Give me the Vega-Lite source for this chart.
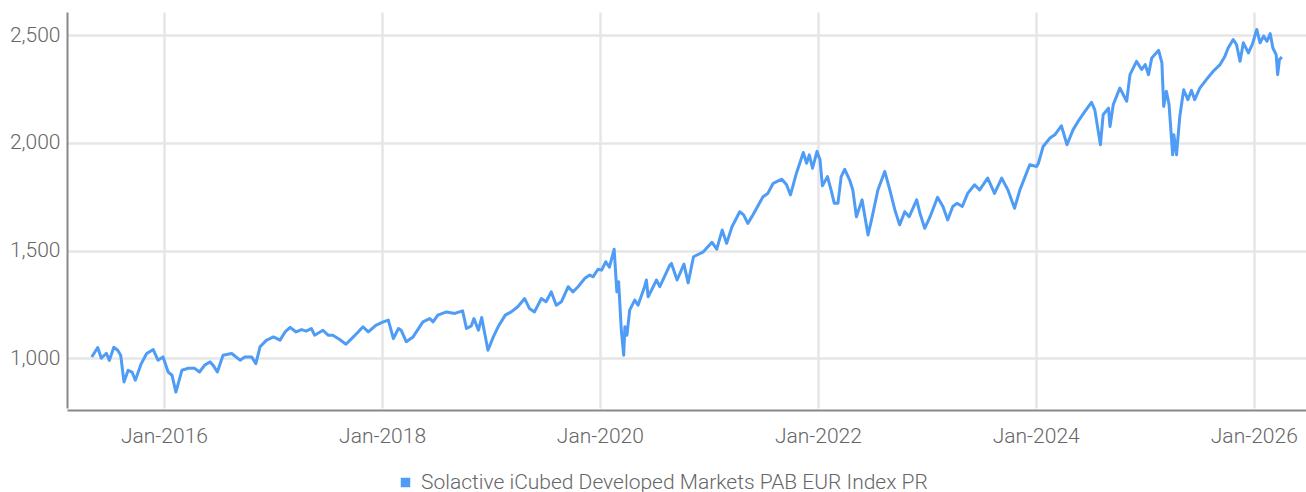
{
  "$schema": "https://vega.github.io/schema/vega-lite/v6.json",
  "width": 1239,
  "height": 396,
  "autosize": {"type": "none"},
  "padding": {"left": 67, "top": 12, "right": 0, "bottom": 84},
  "background": "#ffffff",
  "config": {
    "view": {"stroke": null},
    "font": "Roboto",
    "axis": {"labelFont": "Roboto", "labelFontWeight": 300, "labelFontSize": 21, "labelColor": "#666666", "gridColor": "#e6e6e6", "gridWidth": 2.5, "domainColor": "#888888", "domainWidth": 2, "ticks": false, "title": null}
  },
  "data": {"values": [
    {"date": "2015-05-04", "value": 1006},
    {"date": "2015-05-24", "value": 1050},
    {"date": "2015-06-05", "value": 1000},
    {"date": "2015-06-22", "value": 1023},
    {"date": "2015-07-02", "value": 990},
    {"date": "2015-07-17", "value": 1051},
    {"date": "2015-07-30", "value": 1037},
    {"date": "2015-08-09", "value": 1014},
    {"date": "2015-08-20", "value": 890},
    {"date": "2015-09-03", "value": 944},
    {"date": "2015-09-16", "value": 936},
    {"date": "2015-09-27", "value": 898},
    {"date": "2015-10-17", "value": 975},
    {"date": "2015-11-04", "value": 1022},
    {"date": "2015-11-26", "value": 1040},
    {"date": "2015-12-12", "value": 991},
    {"date": "2015-12-29", "value": 1006},
    {"date": "2016-01-15", "value": 936},
    {"date": "2016-01-28", "value": 921},
    {"date": "2016-02-10", "value": 843},
    {"date": "2016-03-01", "value": 944},
    {"date": "2016-03-21", "value": 953},
    {"date": "2016-04-13", "value": 953},
    {"date": "2016-04-29", "value": 936},
    {"date": "2016-05-16", "value": 967},
    {"date": "2016-06-03", "value": 983},
    {"date": "2016-06-14", "value": 967},
    {"date": "2016-06-28", "value": 936},
    {"date": "2016-07-17", "value": 1014},
    {"date": "2016-08-15", "value": 1022},
    {"date": "2016-09-12", "value": 991},
    {"date": "2016-09-28", "value": 1006},
    {"date": "2016-10-21", "value": 1006},
    {"date": "2016-11-04", "value": 975},
    {"date": "2016-11-18", "value": 1053},
    {"date": "2016-12-10", "value": 1084},
    {"date": "2016-12-21", "value": 1091},
    {"date": "2017-01-02", "value": 1099},
    {"date": "2017-01-24", "value": 1084},
    {"date": "2017-02-10", "value": 1122},
    {"date": "2017-02-27", "value": 1143},
    {"date": "2017-03-19", "value": 1122},
    {"date": "2017-04-06", "value": 1133},
    {"date": "2017-04-22", "value": 1126},
    {"date": "2017-05-09", "value": 1138},
    {"date": "2017-05-20", "value": 1107},
    {"date": "2017-06-17", "value": 1130},
    {"date": "2017-07-04", "value": 1107},
    {"date": "2017-07-20", "value": 1107},
    {"date": "2017-08-12", "value": 1087},
    {"date": "2017-09-02", "value": 1065},
    {"date": "2017-09-21", "value": 1091},
    {"date": "2017-10-13", "value": 1122},
    {"date": "2017-10-29", "value": 1146},
    {"date": "2017-11-16", "value": 1122},
    {"date": "2017-12-11", "value": 1153},
    {"date": "2018-01-05", "value": 1169},
    {"date": "2018-01-22", "value": 1177},
    {"date": "2018-02-08", "value": 1091},
    {"date": "2018-02-25", "value": 1138},
    {"date": "2018-03-06", "value": 1130},
    {"date": "2018-03-23", "value": 1077},
    {"date": "2018-04-15", "value": 1099},
    {"date": "2018-05-18", "value": 1169},
    {"date": "2018-06-10", "value": 1184},
    {"date": "2018-06-21", "value": 1169},
    {"date": "2018-07-07", "value": 1200},
    {"date": "2018-08-05", "value": 1215},
    {"date": "2018-09-02", "value": 1208},
    {"date": "2018-09-28", "value": 1220},
    {"date": "2018-10-11", "value": 1138},
    {"date": "2018-10-27", "value": 1150},
    {"date": "2018-11-05", "value": 1184},
    {"date": "2018-11-20", "value": 1130},
    {"date": "2018-12-01", "value": 1189},
    {"date": "2018-12-22", "value": 1037},
    {"date": "2019-01-09", "value": 1099},
    {"date": "2019-01-25", "value": 1146},
    {"date": "2019-02-18", "value": 1200},
    {"date": "2019-03-10", "value": 1215},
    {"date": "2019-04-01", "value": 1239},
    {"date": "2019-04-24", "value": 1277},
    {"date": "2019-05-10", "value": 1231},
    {"date": "2019-05-27", "value": 1215},
    {"date": "2019-06-19", "value": 1277},
    {"date": "2019-07-05", "value": 1262},
    {"date": "2019-07-22", "value": 1308},
    {"date": "2019-08-08", "value": 1246},
    {"date": "2019-08-25", "value": 1262},
    {"date": "2019-09-17", "value": 1332},
    {"date": "2019-10-03", "value": 1308},
    {"date": "2019-10-20", "value": 1332},
    {"date": "2019-11-12", "value": 1371},
    {"date": "2019-11-28", "value": 1386},
    {"date": "2019-12-09", "value": 1378},
    {"date": "2019-12-26", "value": 1413},
    {"date": "2020-01-07", "value": 1409},
    {"date": "2020-01-21", "value": 1448},
    {"date": "2020-02-02", "value": 1422},
    {"date": "2020-02-18", "value": 1506},
    {"date": "2020-02-27", "value": 1308},
    {"date": "2020-03-04", "value": 1355},
    {"date": "2020-03-13", "value": 1130},
    {"date": "2020-03-21", "value": 1014},
    {"date": "2020-03-25", "value": 1146},
    {"date": "2020-04-01", "value": 1107},
    {"date": "2020-04-10", "value": 1223},
    {"date": "2020-04-27", "value": 1270},
    {"date": "2020-05-08", "value": 1246},
    {"date": "2020-05-30", "value": 1332},
    {"date": "2020-06-05", "value": 1363},
    {"date": "2020-06-11", "value": 1285},
    {"date": "2020-07-09", "value": 1363},
    {"date": "2020-07-20", "value": 1332},
    {"date": "2020-08-23", "value": 1433},
    {"date": "2020-08-28", "value": 1440},
    {"date": "2020-09-16", "value": 1363},
    {"date": "2020-10-09", "value": 1437},
    {"date": "2020-10-23", "value": 1350},
    {"date": "2020-11-10", "value": 1471},
    {"date": "2020-12-13", "value": 1494},
    {"date": "2021-01-11", "value": 1538},
    {"date": "2021-01-27", "value": 1506},
    {"date": "2021-02-14", "value": 1595},
    {"date": "2021-03-01", "value": 1533},
    {"date": "2021-03-19", "value": 1610},
    {"date": "2021-04-14", "value": 1680},
    {"date": "2021-04-27", "value": 1665},
    {"date": "2021-05-11", "value": 1626},
    {"date": "2021-05-28", "value": 1665},
    {"date": "2021-07-01", "value": 1750},
    {"date": "2021-07-17", "value": 1765},
    {"date": "2021-08-04", "value": 1812},
    {"date": "2021-09-02", "value": 1831},
    {"date": "2021-09-18", "value": 1805},
    {"date": "2021-10-01", "value": 1758},
    {"date": "2021-10-21", "value": 1859},
    {"date": "2021-11-13", "value": 1955},
    {"date": "2021-11-24", "value": 1905},
    {"date": "2021-12-03", "value": 1944},
    {"date": "2021-12-14", "value": 1882},
    {"date": "2021-12-29", "value": 1960},
    {"date": "2022-01-08", "value": 1921},
    {"date": "2022-01-16", "value": 1800},
    {"date": "2022-02-02", "value": 1843},
    {"date": "2022-02-14", "value": 1781},
    {"date": "2022-02-25", "value": 1719},
    {"date": "2022-03-09", "value": 1719},
    {"date": "2022-03-20", "value": 1843},
    {"date": "2022-04-01", "value": 1877},
    {"date": "2022-04-17", "value": 1828},
    {"date": "2022-04-28", "value": 1781},
    {"date": "2022-05-10", "value": 1657},
    {"date": "2022-05-29", "value": 1735},
    {"date": "2022-06-18", "value": 1572},
    {"date": "2022-07-02", "value": 1657},
    {"date": "2022-07-21", "value": 1781},
    {"date": "2022-08-13", "value": 1867},
    {"date": "2022-08-30", "value": 1781},
    {"date": "2022-09-16", "value": 1688},
    {"date": "2022-10-02", "value": 1619},
    {"date": "2022-10-19", "value": 1680},
    {"date": "2022-11-03", "value": 1657},
    {"date": "2022-11-28", "value": 1735},
    {"date": "2022-12-09", "value": 1673},
    {"date": "2022-12-25", "value": 1603},
    {"date": "2023-01-12", "value": 1657},
    {"date": "2023-02-06", "value": 1747},
    {"date": "2023-02-24", "value": 1704},
    {"date": "2023-03-12", "value": 1642},
    {"date": "2023-03-29", "value": 1704},
    {"date": "2023-04-12", "value": 1719},
    {"date": "2023-04-30", "value": 1704},
    {"date": "2023-05-18", "value": 1765},
    {"date": "2023-06-10", "value": 1805},
    {"date": "2023-06-27", "value": 1781},
    {"date": "2023-07-24", "value": 1836},
    {"date": "2023-08-16", "value": 1765},
    {"date": "2023-09-09", "value": 1836},
    {"date": "2023-09-30", "value": 1781},
    {"date": "2023-10-22", "value": 1696},
    {"date": "2023-11-09", "value": 1781},
    {"date": "2023-12-01", "value": 1859},
    {"date": "2023-12-12", "value": 1898},
    {"date": "2024-01-04", "value": 1890},
    {"date": "2024-01-10", "value": 1905},
    {"date": "2024-01-26", "value": 1983},
    {"date": "2024-02-18", "value": 2022},
    {"date": "2024-03-05", "value": 2037},
    {"date": "2024-03-27", "value": 2079},
    {"date": "2024-04-15", "value": 1991},
    {"date": "2024-05-05", "value": 2060},
    {"date": "2024-05-22", "value": 2099},
    {"date": "2024-06-14", "value": 2146},
    {"date": "2024-07-06", "value": 2188},
    {"date": "2024-07-17", "value": 2153},
    {"date": "2024-08-05", "value": 1991},
    {"date": "2024-08-14", "value": 2130},
    {"date": "2024-09-01", "value": 2161},
    {"date": "2024-09-06", "value": 2076},
    {"date": "2024-09-17", "value": 2177},
    {"date": "2024-10-09", "value": 2254},
    {"date": "2024-11-01", "value": 2193},
    {"date": "2024-11-12", "value": 2316},
    {"date": "2024-12-04", "value": 2378},
    {"date": "2024-12-21", "value": 2340},
    {"date": "2025-01-02", "value": 2363},
    {"date": "2025-01-13", "value": 2316},
    {"date": "2025-01-24", "value": 2394},
    {"date": "2025-02-16", "value": 2429},
    {"date": "2025-02-27", "value": 2371},
    {"date": "2025-03-05", "value": 2169},
    {"date": "2025-03-14", "value": 2239},
    {"date": "2025-03-23", "value": 2177},
    {"date": "2025-04-04", "value": 1944},
    {"date": "2025-04-08", "value": 2037},
    {"date": "2025-04-17", "value": 1944},
    {"date": "2025-04-28", "value": 2122},
    {"date": "2025-05-11", "value": 2246},
    {"date": "2025-05-25", "value": 2200},
    {"date": "2025-06-06", "value": 2243},
    {"date": "2025-06-17", "value": 2200},
    {"date": "2025-07-04", "value": 2254},
    {"date": "2025-07-26", "value": 2293},
    {"date": "2025-08-18", "value": 2332},
    {"date": "2025-09-10", "value": 2363},
    {"date": "2025-09-26", "value": 2401},
    {"date": "2025-10-07", "value": 2440},
    {"date": "2025-10-24", "value": 2479},
    {"date": "2025-11-04", "value": 2456},
    {"date": "2025-11-16", "value": 2378},
    {"date": "2025-11-27", "value": 2464},
    {"date": "2025-12-14", "value": 2417},
    {"date": "2025-12-28", "value": 2460},
    {"date": "2026-01-11", "value": 2526},
    {"date": "2026-01-22", "value": 2464},
    {"date": "2026-02-03", "value": 2495},
    {"date": "2026-02-14", "value": 2471},
    {"date": "2026-02-25", "value": 2507},
    {"date": "2026-03-06", "value": 2440},
    {"date": "2026-03-17", "value": 2409},
    {"date": "2026-03-22", "value": 2316},
    {"date": "2026-03-28", "value": 2386},
    {"date": "2026-04-05", "value": 2398}
  ]},
  "mark": {"type": "line", "strokeWidth": 3, "strokeJoin": "round", "interpolate": "linear"},
  "encoding": {
    "x": {
      "field": "date", "type": "temporal",
      "scale": {"domain": [{"year": 2015, "month": 2, "date": 10}, {"year": 2026, "month": 6, "date": 25}]},
      "axis": {
        "values": [{"year": 2016, "month": 1, "date": 1}, {"year": 2018, "month": 1, "date": 1}, {"year": 2020, "month": 1, "date": 1}, {"year": 2022, "month": 1, "date": 1}, {"year": 2024, "month": 1, "date": 1}, {"year": 2026, "month": 1, "date": 1}],
        "format": "%b-%Y", "labelPadding": 15, "offset": 2, "grid": true, "labelFlush": false
      }
    },
    "y": {
      "field": "value", "type": "quantitative",
      "scale": {"domain": [769, 2607], "nice": false, "zero": false},
      "axis": {"values": [1000, 1500, 2000, 2500], "format": ",d", "labelPadding": 7, "grid": true}
    },
    "color": {
      "datum": "Solactive iCubed Developed Markets PAB EUR Index PR",
      "type": "nominal",
      "scale": {"range": ["#4e9cf5"]},
      "legend": {
        "title": null, "orient": "none", "legendX": 328, "legendY": 460, "padding": 0,
        "symbolType": "square", "symbolSize": 90, "symbolStrokeWidth": 0,
        "labelFont": "Roboto", "labelFontWeight": 300, "labelFontSize": 21, "labelColor": "#666666", "labelOffset": 5, "labelLimit": 1000,
        "encode": {"symbols": {"update": {"fill": {"value": "#4e9cf5"}, "stroke": {"value": "#4e9cf5"}, "opacity": {"value": 1}}}}
      }
    }
  }
}
